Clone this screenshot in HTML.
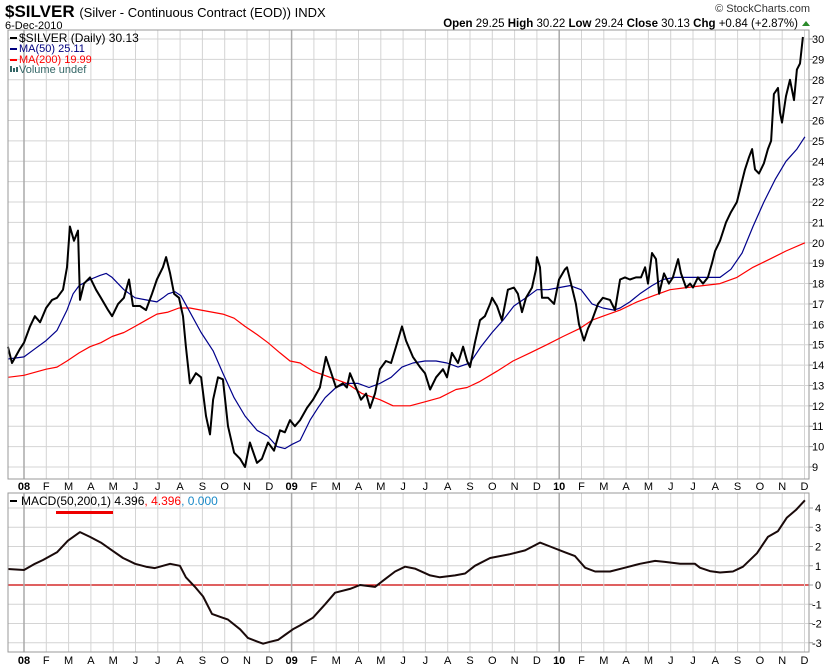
<!DOCTYPE html>
<html><head><meta charset="utf-8"><style>
body{margin:0;background:#fff;width:829px;height:669px;overflow:hidden;font-family:"Liberation Sans",sans-serif}
svg{position:absolute;left:0;top:0}
</style></head><body>
<svg width="829" height="669" viewBox="0 0 829 669">
<text x="5" y="17" font-size="17" font-weight="bold">$SILVER <tspan font-size="13" font-weight="normal">(Silver - Continuous Contract (EOD)) INDX</tspan></text>
<text x="5" y="29" font-size="11">6-Dec-2010</text>
<text x="810" y="12" font-size="11" text-anchor="end" fill="#333">© StockCharts.com</text>
<text x="798" y="27" font-size="11.5" text-anchor="end"><tspan font-weight="bold">Open</tspan> 29.25 <tspan font-weight="bold">High</tspan> 30.22 <tspan font-weight="bold">Low</tspan> 29.24 <tspan font-weight="bold">Close</tspan> 30.13 <tspan font-weight="bold">Chg</tspan> +0.84 (+2.87%)</text>
<polygon points="802,26 810,26 806,21" fill="#2a8a2a"/>
<g id="grid"></g>
<g id="marks"></g>
<rect x="8" y="30" width="801" height="449" fill="none" stroke="#999"/>
<rect x="8" y="493" width="801" height="159" fill="none" stroke="#999"/>
<g font-size="11">
<rect x="10" y="37" width="7" height="2" fill="#000"/><text x="19" y="42" font-size="12">$SILVER (Daily) 30.13</text>
<rect x="10" y="48" width="7" height="2" fill="#000080"/><text x="19" y="52" fill="#000080">MA(50) 25.11</text>
<rect x="10" y="59" width="7" height="2" fill="#f00"/><text x="19" y="63" fill="#f00">MA(200) 19.99</text>
<rect x="10" y="66" width="2" height="6" fill="#366"/><rect x="13" y="68" width="2" height="4" fill="#366"/><rect x="16" y="67" width="2" height="5" fill="#366"/><text x="19" y="73" fill="#366">Volume undef</text>
</g>
<g font-size="12">
<rect x="10" y="500" width="7" height="2" fill="#000"/><text x="21" y="505">MACD(50,200,1) 4.396<tspan fill="#f00">, 4.396</tspan><tspan fill="#1a8ac8">, 0.000</tspan></text>
<rect x="56" y="511" width="57" height="3" fill="#e00"/>
</g>
</svg>
<script>
const monthLabels=["08","F","M","A","M","J","J","A","S","O","N","D","09","F","M","A","M","J","J","A","S","O","N","D","10","F","M","A","M","J","J","A","S","O","N","D"];
const priceTicks=[9,10,11,12,13,14,15,16,17,18,19,20,21,22,23,24,25,26,27,28,29,30];
const macdTicks=[-3,-2,-1,0,1,2,3,4];
const priceMonths=[-0.72,-0.54,-0.18,0,0.27,0.49,0.72,0.99,1.26,1.48,1.75,1.93,2.06,2.24,2.42,2.51,2.69,2.96,3.23,3.45,3.77,3.95,4.22,4.48,4.71,4.89,5.2,5.47,5.74,5.96,6.23,6.37,6.55,6.73,6.95,7.13,7.26,7.44,7.71,7.94,8.16,8.34,8.48,8.7,8.92,9.15,9.42,9.69,9.91,10.13,10.45,10.67,10.94,11.21,11.48,11.7,11.93,12.15,12.38,12.69,12.96,13.27,13.54,13.72,13.99,14.3,14.48,14.62,14.89,15.11,15.34,15.52,15.74,15.96,16.23,16.46,16.68,16.95,17.13,17.44,17.76,17.98,18.21,18.48,18.79,18.97,19.19,19.46,19.69,19.87,20,20.22,20.45,20.67,20.9,20.99,21.21,21.43,21.7,21.97,22.15,22.33,22.51,22.78,22.96,23.0,23.14,23.23,23.5,23.77,23.99,24.26,24.35,24.53,24.75,24.89,25.11,25.29,25.47,25.74,25.96,26.28,26.5,26.73,26.95,27.17,27.44,27.67,27.85,27.98,28.16,28.34,28.48,28.7,28.92,29.1,29.33,29.46,29.69,29.87,30,30.22,30.45,30.67,30.85,30.99,31.21,31.48,31.7,31.97,32.15,32.33,32.51,32.65,32.78,32.96,33.18,33.36,33.5,33.63,33.81,33.9,33.99,34.17,34.35,34.53,34.66,34.8,34.93];
const priceValues=[14.9,14.1,14.8,15.1,15.9,16.4,16.1,16.8,17.2,17.3,17.7,18.8,20.8,20.1,20.6,17.2,18.0,18.3,17.7,17.3,16.7,16.4,17.0,17.3,18.2,16.9,16.9,16.7,17.5,18.2,18.8,19.3,18.5,17.5,17.3,16.4,14.9,13.1,13.6,13.4,11.5,10.6,12.3,13.4,13.3,11.0,9.7,9.4,9.0,10.2,9.2,9.4,10.2,9.8,10.8,10.7,11.3,11.0,11.3,11.9,12.3,12.9,14.4,13.8,12.9,13.1,12.9,13.6,12.9,12.3,12.6,11.9,12.6,13.8,14.2,14.1,14.9,15.9,15.2,14.4,13.9,13.6,12.8,13.4,13.8,13.4,14.6,14.1,14.9,14.2,13.9,15.1,16.2,16.4,17.0,17.3,16.9,16.2,17.7,17.8,17.5,16.6,17.3,17.8,18.7,19.3,18.8,17.3,17.3,17.0,18.2,18.7,18.8,18.0,17.0,16.0,15.2,15.8,16.2,17.0,17.3,17.2,16.7,18.2,18.3,18.2,18.3,18.3,18.8,18.0,19.5,19.2,17.5,18.5,18.0,18.3,19.2,18.5,17.8,18.0,17.8,18.3,18.0,18.3,19.0,19.6,20.1,21.0,21.5,22.0,22.8,23.6,24.2,24.6,23.6,23.4,23.9,24.6,25.0,27.3,27.6,26.4,25.9,27.2,28.0,27.0,28.5,28.8,30.1];
const ma50Months=[-0.72,0,0.49,0.99,1.48,1.93,2.2,2.47,2.96,3.41,3.68,3.95,4.48,4.98,5.47,5.96,6.23,6.46,6.77,7.04,7.44,7.94,8.48,8.92,9.42,9.91,10.45,10.94,11.35,11.7,12.0,12.38,12.83,13.18,13.5,13.99,14.48,14.98,15.47,15.96,16.46,16.95,17.44,17.98,18.48,18.97,19.46,20,20.49,20.99,21.48,21.97,22.51,23.0,23.5,23.99,24.48,24.98,25.47,25.96,26.46,26.73,27.17,27.62,28.16,28.65,29.19,29.69,30.18,30.67,31.21,31.7,32.2,32.69,33.18,33.68,34.17,34.66,35.02];
const ma50Values=[14.3,14.4,14.8,15.2,15.7,16.7,17.5,17.9,18.2,18.4,18.5,18.3,17.7,17.3,17.2,17.1,17.3,17.5,17.6,17.4,16.6,15.6,14.7,13.6,12.4,11.5,10.8,10.5,10.0,9.9,10.1,10.3,11.3,11.9,12.4,12.9,13.1,13.1,12.9,13.1,13.4,13.9,14.1,14.2,14.2,14.1,13.9,14.1,14.9,15.6,16.2,16.9,17.3,17.7,17.7,17.8,17.9,17.7,17.0,16.8,16.7,16.8,17.1,17.5,17.9,18.2,18.3,18.3,18.3,18.3,18.3,18.7,19.5,20.8,22.0,23.1,24.0,24.6,25.2];
const ma200Months=[-0.72,0,0.99,1.48,1.93,2.47,2.96,3.45,3.95,4.48,4.98,5.47,5.96,6.46,6.95,7.44,7.94,8.43,8.92,9.42,9.91,10.45,10.94,11.48,11.93,12.38,12.96,13.72,14.48,15.16,15.96,16.55,17.31,17.98,18.65,19.37,19.87,20.45,21.21,21.93,22.69,23.45,24.17,24.93,25.47,25.96,26.73,27.49,28.21,28.97,29.69,30.45,31.21,31.97,32.69,33.45,34.17,35.02];
const ma200Values=[13.4,13.5,13.8,13.9,14.2,14.6,14.9,15.1,15.4,15.6,15.9,16.2,16.5,16.6,16.8,16.8,16.7,16.6,16.5,16.3,15.9,15.5,15.1,14.6,14.2,14.1,13.7,13.4,13.1,12.6,12.3,12.0,12.0,12.2,12.4,12.8,12.9,13.2,13.7,14.2,14.6,15.0,15.4,15.8,16.2,16.4,16.7,17.1,17.4,17.7,17.8,17.9,18.0,18.3,18.8,19.2,19.6,20.0];
const macdMonths=[-0.72,0,0.49,0.85,1.48,1.97,2.51,2.96,3.45,3.95,4.44,4.98,5.47,5.87,6.23,6.55,6.99,7.26,7.67,8.03,8.43,8.79,9.15,9.69,10.04,10.49,10.72,11.03,11.39,11.7,12.06,12.38,12.96,13.5,13.95,14.62,15.07,15.74,16.19,16.64,17.09,17.53,18.21,18.65,19.33,19.78,20.22,20.9,21.79,22.47,23.14,23.59,24.26,24.71,25.16,25.61,26.28,26.95,27.62,28.3,28.74,29.42,30.09,30.31,30.76,31.21,31.79,32.24,32.87,33.36,33.81,34.21,34.62,35.02];
const macdValues=[0.83,0.78,1.1,1.3,1.7,2.3,2.75,2.5,2.2,1.8,1.4,1.1,0.95,0.88,1.0,1.1,1.0,0.4,-0.1,-0.6,-1.5,-1.65,-1.8,-2.3,-2.75,-2.95,-3.05,-2.95,-2.85,-2.6,-2.3,-2.1,-1.7,-1.0,-0.4,-0.2,0.0,-0.1,0.3,0.7,0.95,0.85,0.5,0.4,0.5,0.6,1.0,1.4,1.6,1.8,2.2,2.0,1.7,1.5,0.9,0.7,0.7,0.9,1.1,1.25,1.2,1.1,1.1,0.9,0.72,0.65,0.7,0.95,1.65,2.5,2.8,3.5,3.9,4.4];

const NS="http://www.w3.org/2000/svg";
const L=8,R=809,PT=30,PB=479,MT=493,MB=652;
const xOf=m=>24+m*22.3;
const yP=p=>39+(30-p)*20.38;
const yM=v=>585-v*19.25;
const grid=document.getElementById('grid'),marks=document.getElementById('marks');
function mk(tag,attrs,parent){const e=document.createElementNS(NS,tag);for(const k in attrs)e.setAttribute(k,attrs[k]);parent.appendChild(e);return e;}
// horizontal grids & labels
priceTicks.forEach(t=>{const y=yP(t);
 const g=mk('line',{x1:L,x2:R,y1:y,y2:y,stroke:'#d4d4d4','stroke-width':1},grid);
 
 
 mk('line',{x1:R,x2:R+4,y1:y,y2:y,stroke:'#999'},grid);
 const tx=mk('text',{x:812,y:y+4,'font-size':11},grid);tx.textContent=t;
 
 
});
macdTicks.forEach(t=>{const y=yM(t);
 const g=mk('line',{x1:L,x2:R,y1:y,y2:y,stroke:t===0?'#c00':'#d4d4d4','stroke-width':t===0?1.3:1},grid);
 
 
 mk('line',{x1:R,x2:R+4,y1:y,y2:y,stroke:'#999'},grid);
 const tx=mk('text',{x:t<0?812:815,y:y+4,'font-size':11},grid);tx.textContent=t;
 
 
});
monthLabels.forEach((lab,i)=>{const x=xOf(i);const yr=(i%12===0);
 [[PT,PB],[MT,MB]].forEach(([a,b])=>{const g=mk('line',{x1:x,x2:x,y1:a,y2:b,stroke:yr?'#aaa':'#d4d4d4','stroke-width':yr?1.5:1},grid);
  
  });
 [490,664].forEach(y=>{const tx=mk('text',{x:x,y:y,'font-size':11,'text-anchor':'middle','font-weight':yr?'bold':'normal'},grid);tx.textContent=lab;
  
  });
});
function line(ms,vs,yf,color,w,name){
 const pts=ms.map((m,i)=>xOf(m).toFixed(1)+','+yf(vs[i]).toFixed(1)).join(' ');
 const p=mk('polyline',{points:pts,fill:'none',stroke:color,'stroke-width':w,'stroke-linejoin':'round'},marks);
 
 
}
line(ma200Months,ma200Values,yP,'#f00',1.2,'ma200-line');
line(ma50Months,ma50Values,yP,'#00008b',1.2,'ma50-line');
line(priceMonths,priceValues,yP,'#000',2,'price-line');
line(macdMonths,macdValues,yM,'#1a0a0a',2,'macd-line');
</script>
</body></html>
